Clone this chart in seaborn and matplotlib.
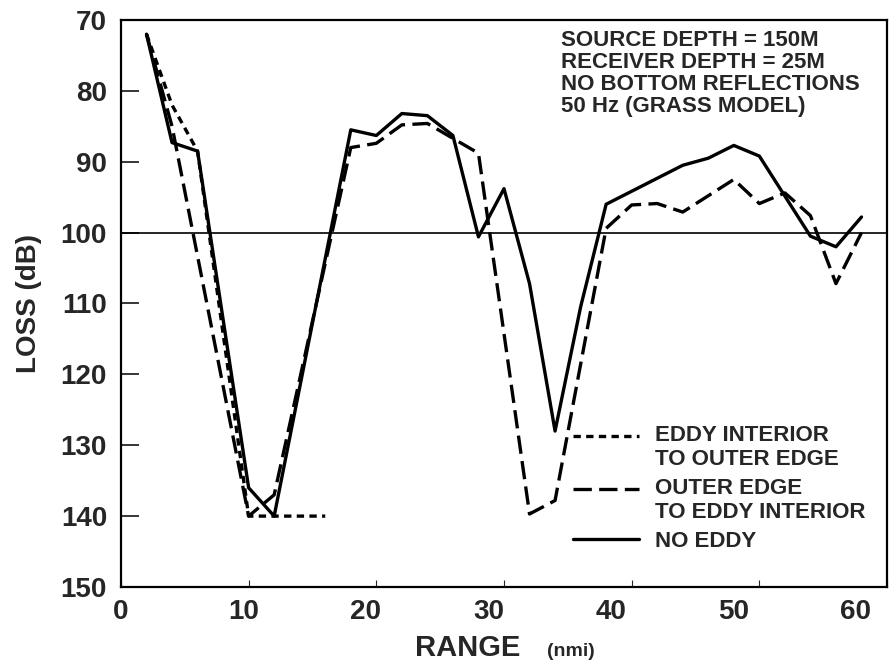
import matplotlib
matplotlib.use("Agg")
import matplotlib.pyplot as plt
from matplotlib.transforms import ScaledTranslation
import numpy as np
import pandas as pd
import seaborn as sns

# ---- data (range in nmi, loss in dB) ----
lbl_interior = "EDDY INTERIOR\nTO OUTER EDGE"
lbl_outer = "OUTER EDGE\nTO EDDY INTERIOR"
lbl_none = "NO EDDY"

interior_range = [2, 4, 6, 10, 16]
interior_loss = [72, 82, 88.5, 140, 140]

outer_range = [2, 4, 10, 12, 18, 20, 22, 24, 26, 28, 32, 34, 38, 40, 42, 44, 48, 50, 52, 54, 56, 58]
outer_loss = [72, 85, 140, 137, 88, 87.4, 84.8, 84.6, 86.7, 88.8, 139.7, 137.8, 99.4, 96.1,
              95.9, 97.1, 92.5, 95.9, 94.4, 97.6, 107.2, 100]

none_range = [2, 4, 6, 10, 12, 18, 20, 22, 24, 26, 28, 30, 32, 34, 36, 38, 44, 46, 48, 50, 54, 56, 58]
none_loss = [72, 87.3, 88.5, 136, 140, 85.5, 86.3, 83.2, 83.5, 86.3, 100.6, 93.8, 107.2, 128,
             110.5, 96, 90.5, 89.5, 87.7, 89.2, 100.5, 102, 97.8]

note_lines = ["SOURCE DEPTH = 150M", "RECEIVER DEPTH = 25M",
              "NO BOTTOM REFLECTIONS", "50 Hz (GRASS MODEL)"]

df = pd.concat([
    pd.DataFrame({"range": interior_range, "loss": interior_loss, "case": lbl_interior}),
    pd.DataFrame({"range": outer_range, "loss": outer_loss, "case": lbl_outer}),
    pd.DataFrame({"range": none_range, "loss": none_loss, "case": lbl_none}),
], ignore_index=True)

sns.set_theme(style="ticks")
plt.rcParams["font.family"] = ["Liberation Sans", "DejaVu Sans"]
plt.rcParams["font.weight"] = "bold"

fig = plt.figure(figsize=(8.94, 6.64), dpi=100)
ax = fig.add_axes([0.1353, 0.1160, 0.8569, 0.8539])

case_order = [lbl_interior, lbl_outer, lbl_none]
dash_map = {lbl_interior: (2.2, 1.6), lbl_outer: (5.5, 2.2), lbl_none: ""}
sns.lineplot(data=df, x="range", y="loss", style="case", style_order=case_order,
             dashes=dash_map, color="black", linewidth=2.4, sort=False,
             estimator=None, legend=False, ax=ax)

handles = ax.lines[:3]
leg = ax.legend(handles, case_order, loc="upper left", bbox_to_anchor=(0.575, 0.305),
                frameon=False, handlelength=3.0, handletextpad=0.7, labelspacing=0.35,
                borderpad=0, prop={"size": 16, "weight": "bold"})
# put the two-line entries' handles level with their first line
for ln in leg.get_lines()[:2]:
    ln.set_transform(ln.get_transform() + ScaledTranslation(0, 0.115, fig.dpi_scale_trans))

ax.axhline(100, color="black", linewidth=1.2)

ax.set_xlim(0, 60)
ax.set_ylim(150, 70)
ax.set_xticks(np.arange(0, 61, 10))
ax.set_yticks(np.arange(70, 151, 10))
ax.tick_params(axis="y", direction="in", length=13, width=1.3, pad=10, labelsize=20)
ax.tick_params(axis="x", direction="in", length=5, width=0.8, pad=9, labelsize=20)
for t in ax.get_xticklabels() + ax.get_yticklabels():
    t.set_fontweight("bold")
# the printed range labels drift a little left of their ticks
for i, t in enumerate(ax.get_xticklabels()):
    t.set_transform(t.get_transform() + ScaledTranslation(-0.052 * i, 0, fig.dpi_scale_trans))
for s in ax.spines.values():
    s.set_linewidth(1.6)
    s.set_color("black")

ax.set_ylabel("LOSS (dB)", fontsize=20, fontweight="bold")
ax.yaxis.set_label_coords(-0.103, 0.5)
ax.set_xlabel("")
ax.text(0.453, -0.122, "RANGE", transform=ax.transAxes, ha="center", va="baseline",
        fontsize=21, fontweight="bold")
ax.text(0.556, -0.122, "(nmi)", transform=ax.transAxes, ha="left", va="baseline",
        fontsize=14, fontweight="bold")

ax.text(0.574, 0.982, "\n".join(note_lines), transform=ax.transAxes, ha="left", va="top",
        fontsize=16, fontweight="bold", linespacing=1.05)

fig.savefig("out.png", dpi=100)
